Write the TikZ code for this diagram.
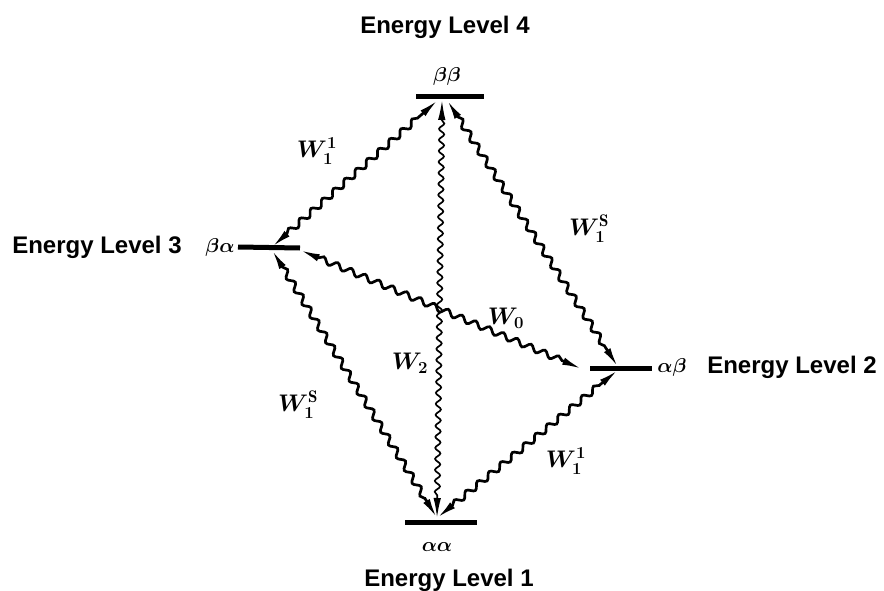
\RequirePackage{fix-cm}
\documentclass[tikz,border=0pt]{standalone}
\usepackage{amsmath}
\usepackage{fontspec}
\newfontfamily\lblfont{Liberation Sans}
\usepackage{tikz}
\usetikzlibrary{arrows.meta,positioning,calc,decorations.pathmorphing}

\begin{document}
\begin{tikzpicture}[x=1pt,y=-1pt,every node/.style={inner sep=0pt},
  lvl/.style={line width=5pt},
  wave/.style={line width=2.7pt,decorate,
    decoration={snake,amplitude=3pt,segment length=15pt,pre length=20pt,post length=20pt},
    {Latex[length=20pt,width=7.5pt]}-{Latex[length=20pt,width=7.5pt]}},
  thinwave/.style={wave,line width=1.7pt,
    decoration={snake,amplitude=2.6pt,segment length=11pt,pre length=20pt,post length=20pt}},
  elabel/.style={font=\lblfont\bfseries\fontsize{24}{28}\selectfont},
  spin/.style={font=\boldmath\fontsize{20}{22}\selectfont},
  rate/.style={font=\boldmath\fontsize{24}{26}\selectfont}]
  \useasboundingbox (0,0) rectangle (884,591);
  % meeting points of the arrows
  \coordinate (bb) at (442,100);
  \coordinate (ba) at (272,247);
  \coordinate (ab) at (618,367);
  \coordinate (aa) at (437,518);
  \coordinate (wzeroa) at (300,250);
  \coordinate (wzerob) at (582,369);
  % levels
  \draw[lvl] (416,97) -- (484,97);
  \draw[lvl] (238,247) -- (300,248);
  \draw[lvl] (590,368) -- (652,368);
  \draw[lvl] (405,522) -- (477,522);
  % level texts
  \node[elabel] (lvlfour) at (445,27) {Energy Level 4};
  \node[spin] (bbtxt) at (447,77) {$\beta\beta$};
  \node[elabel] (lvlthree) at (97,247) {Energy Level 3};
  \node[spin] (batxt) at (220,247) {$\beta\alpha$};
  \node[spin] (abtxt) at (672,367) {$\alpha\beta$};
  \node[elabel] (lvltwo) at (792,367) {Energy Level 2};
  \node[spin] (aatxt) at (437,547) {$\alpha\alpha$};
  \node[elabel] (lvlone) at (449,580) {Energy Level 1};
  % transitions
  \draw[wave] (ba) -- ([xshift=-4pt]bb);
  \draw[thinwave] (bb) -- (aa);
  \draw[wave] ([xshift=5pt]bb) -- (ab);
  \draw[wave] (wzeroa) -- (wzerob);
  \draw[wave] ([yshift=-3pt]ba) -- (aa);
  \draw[wave] (aa) -- ([yshift=-3pt]ab);
  % rates
  \node[rate] (wonea) at (317,151) {$W_1^{1}$};
  \node[rate] (wonesa) at (589,229) {$W_1^{\mathrm{S}}$};
  \node[rate] (wzero) at (506,318) {$W_0$};
  \node[rate] (wtwo) at (410,363) {$W_2$};
  \node[rate] (wonesb) at (298,405) {$W_1^{\mathrm{S}}$};
  \node[rate] (woneb) at (566,461) {$W_1^{1}$};
\end{tikzpicture}
\end{document}
